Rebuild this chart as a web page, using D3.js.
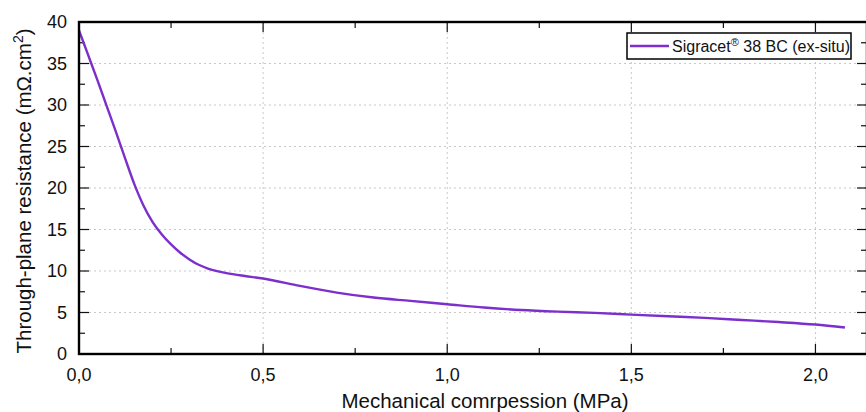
<!DOCTYPE html>
<html>
<head>
<meta charset="utf-8">
<script src="https://cdn.jsdelivr.net/npm/d3@7"></script>
<style>
  body { margin: 0; background: #fff; }
  text { font-family: "Liberation Sans", Arial, sans-serif; fill: #111; }
</style>
</head>
<body>
<div id="chart"></div>
<script>
// pressure (MPa) and through-plane resistance (mOhm.cm2)
const pressure = [0, 0.025, 0.05, 0.075, 0.1, 0.125, 0.15, 0.175, 0.2, 0.225, 0.25, 0.275, 0.3, 0.325, 0.35, 0.375, 0.4, 0.45, 0.5,
  0.6, 0.7, 0.8, 0.9, 1.0, 1.1, 1.2, 1.3, 1.4, 1.5, 1.6, 1.7, 1.8, 1.9, 2.0, 2.08];
const resistance = [39.0, 36.0, 33.0, 29.9, 26.8, 23.6, 20.5, 17.9, 15.9, 14.4, 13.2, 12.2, 11.4, 10.75, 10.3, 9.98, 9.75, 9.4, 9.1,
  8.2, 7.4, 6.8, 6.4, 6.0, 5.6, 5.3, 5.1, 4.95, 4.75, 4.55, 4.35, 4.1, 3.85, 3.55, 3.2];
const xTicks = [0, 0.5, 1.0, 1.5, 2.0];
const yTicks = [0, 5, 10, 15, 20, 25, 30, 35, 40];
const seriesName = "Sigracet";

const W = 866, H = 412;
const margin = { top: 22, right: -1, bottom: 58, left: 79 };
const width = W - margin.left - margin.right;
const height = H - margin.top - margin.bottom;

const svg = d3.select("#chart").append("svg")
    .attr("width", W).attr("height", H);
const g = svg.append("g").attr("transform", `translate(${margin.left},${margin.top})`);

const x = d3.scaleLinear().domain([0, 2.14]).range([0, width]);
const y = d3.scaleLinear().domain([0, 40]).range([height, 0]);

const fmt = d => d3.format(".1f")(d).replace(".", ",");
const minorX = d3.range(0.25, 2.14, 0.5);
const minorY = d3.range(2.5, 40, 5);

// grid
g.append("g").selectAll("line").data(xTicks.slice(1)).join("line")
    .attr("x1", d => x(d)).attr("x2", d => x(d)).attr("y1", 0).attr("y2", height)
    .attr("stroke", "#c8c8c8").attr("stroke-dasharray", "2,3");
g.append("g").selectAll("line").data(yTicks.slice(1, -1)).join("line")
    .attr("x1", 0).attr("x2", width).attr("y1", d => y(d)).attr("y2", d => y(d))
    .attr("stroke", "#c8c8c8").attr("stroke-dasharray", "2,3");

// ticks (inward, mirrored on all four sides)
const tick = g.append("g").attr("stroke", "#111").attr("stroke-width", 1.2);
xTicks.concat(minorX).forEach(d => {
  const len = xTicks.includes(d) ? 10 : 6;
  tick.append("line").attr("x1", x(d)).attr("x2", x(d)).attr("y1", height).attr("y2", height - len);
  tick.append("line").attr("x1", x(d)).attr("x2", x(d)).attr("y1", 0).attr("y2", len);
});
yTicks.concat(minorY).forEach(d => {
  const len = yTicks.includes(d) ? 10 : 6;
  tick.append("line").attr("x1", 0).attr("x2", len).attr("y1", y(d)).attr("y2", y(d));
  tick.append("line").attr("x1", width).attr("x2", width - len).attr("y1", y(d)).attr("y2", y(d));
});

// tick labels
g.append("g").selectAll("text").data(xTicks).join("text")
    .attr("x", d => x(d)).attr("y", height + 27)
    .attr("text-anchor", "middle").style("font-size", "18px")
    .text(fmt);
g.append("g").selectAll("text").data(yTicks).join("text")
    .attr("x", -12).attr("y", d => y(d) + 6)
    .attr("text-anchor", "end").style("font-size", "18px")
    .text(d => d);

// the curve
const pts = pressure.map((p, i) => [p, resistance[i]]);
const line = d3.line().x(d => x(d[0])).y(d => y(d[1])).curve(d3.curveMonotoneX);
g.append("path").datum(pts)
    .attr("fill", "none").attr("stroke", "#7c2fcc").attr("stroke-width", 2.4)
    .attr("d", line);

// frame
g.append("rect").attr("x", 0).attr("y", 0).attr("width", width).attr("height", height)
    .attr("fill", "none").attr("stroke", "#000").attr("stroke-width", 2.4);

// axis titles
svg.append("text")
    .attr("x", 485).attr("y", 408)
    .attr("text-anchor", "middle").style("font-size", "20.5px")
    .text("Mechanical comrpession (MPa)");
const yt = svg.append("text")
    .attr("transform", "translate(31,191) rotate(-90)")
    .attr("text-anchor", "middle").style("font-size", "20.5px");
yt.append("tspan").text("Through-plane resistance (m\u03A9.cm");
yt.append("tspan").attr("dy", -8).style("font-size", "14px").text("2");
yt.append("tspan").attr("dy", 8).text(")");

// legend
const lg = svg.append("g").attr("transform", "translate(627,33)");
lg.append("rect").attr("width", 224).attr("height", 26)
    .attr("fill", "#fff").attr("stroke", "#000").attr("stroke-width", 1.5);
lg.append("line").attr("x1", 3).attr("x2", 42).attr("y1", 13).attr("y2", 13)
    .attr("stroke", "#7c2fcc").attr("stroke-width", 2.4);
const lt = lg.append("text").attr("x", 45).attr("y", 19).style("font-size", "16px");
lt.append("tspan").text(seriesName);
lt.append("tspan").attr("dy", -6).style("font-size", "11px").text("\u00AE");
lt.append("tspan").attr("dy", 6).text(" 38 BC (ex-situ)");
</script>
</body>
</html>
